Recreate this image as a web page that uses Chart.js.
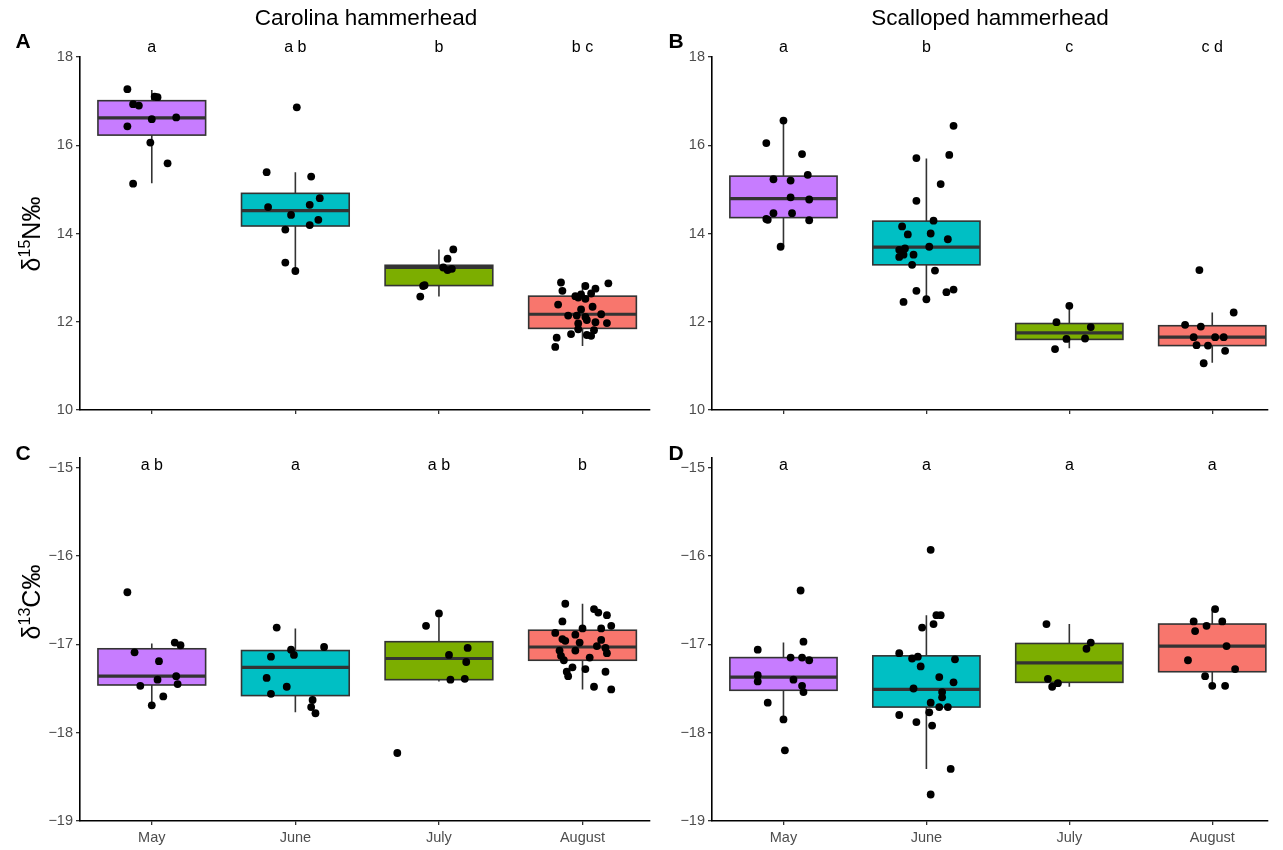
<!DOCTYPE html>
<html lang="en">
  <head>
    <meta charset="UTF-8" />
    <title>Hammerhead isotopes by month</title>
    <script src="https://cdn.jsdelivr.net/npm/chart.js@4.4.0/dist/chart.umd.min.js"></script>
    <style>
      body { margin: 0; background: #fff; font-family: 'Liberation Sans', Arial, sans-serif; }
      #wrap { position: relative; width: 1283px; height: 850px; }
      canvas { position: absolute; left: 0; top: 0; }
      .txt { position: absolute; transform: translate(-50%, -50%); white-space: nowrap; line-height: 1; color: #000; }
      .title { font-size: 22.5px; }
      .tag { font-size: 21px; font-weight: bold; }
      .ytitle { position: absolute; transform: translate(-50%, -50%) rotate(-90deg); white-space: nowrap; font-size: 25px; line-height: 1; }
      .ytitle sup { font-size: 16px; vertical-align: 10px; line-height: 0; }
    </style>
  </head>
  <body>
    <div id="wrap">
      <canvas id="cA" width="1283" height="850"></canvas>
      <canvas id="cB" width="1283" height="850"></canvas>
      <canvas id="cC" width="1283" height="850"></canvas>
      <canvas id="cD" width="1283" height="850"></canvas>

      <div class="txt title" style="left:366px;top:18px">Carolina hammerhead</div>
      <div class="txt title" style="left:990px;top:18px">Scalloped hammerhead</div>
      <div class="txt tag" style="left:23px;top:40px">A</div>
      <div class="txt tag" style="left:676px;top:40px">B</div>
      <div class="txt tag" style="left:23px;top:452px">C</div>
      <div class="txt tag" style="left:676px;top:452px">D</div>
      <div class="ytitle" style="left:31px;top:234px">δ<sup>15</sup>N‰</div>
      <div class="ytitle" style="left:31px;top:602px">δ<sup>13</sup>C‰</div>
    </div>

    <script>
      //data
      const months = ['May', 'June', 'July', 'August'];

      // Carolina hammerhead, d15N
      const carN = [
        [17.27, 17.10, 17.09, 16.93, 16.90, 16.59, 16.63, 16.43, 16.06, 15.59, 15.13],
        [16.86, 15.39, 15.29, 14.80, 14.60, 14.65, 14.42, 14.31, 14.19, 14.09, 13.34, 13.15],
        [13.64, 13.43, 13.23, 13.17, 13.20, 12.83, 12.81, 12.57],
        [12.89, 12.87, 12.81, 12.75, 12.70, 12.64, 12.58, 12.62, 12.52, 12.55, 12.39, 12.34, 12.28, 12.17,
         12.14, 12.14, 12.11, 12.04, 11.96, 11.99, 11.97, 11.83, 11.72, 11.81, 11.68, 11.70, 11.64, 11.43]
      ];
      const carNJit = [
        [-0.17, 0.02, 0.04, -0.13, -0.09, 0.00, 0.17, -0.17, -0.01, 0.11, -0.13],
        [0.01, -0.20, 0.11, 0.17, -0.19, 0.10, -0.03, 0.16, 0.10, -0.07, -0.07, 0.00],
        [0.10, 0.06, 0.03, 0.06, 0.09, -0.10, -0.11, -0.13],
        [-0.15, 0.18, 0.02, 0.09, -0.14, 0.06, -0.05, -0.01, 0.02, -0.03, -0.17, 0.07, -0.01, 0.13,
         -0.10, -0.04, 0.02, 0.03, -0.03, 0.09, 0.17, -0.03, -0.08, 0.08, 0.06, 0.03, -0.18, -0.19]
      ];
      // [lower whisker, q1, median, q3, upper whisker]
      const carNBox = [
        [15.14, 16.23, 16.62, 17.01, 17.25],
        [13.15, 14.17, 14.52, 14.91, 15.39],
        [12.57, 12.82, 13.23, 13.28, 13.64],
        [11.45, 11.85, 12.17, 12.58, 12.87]
      ];
      const carNLetters = ['a', 'a b', 'b', 'b c'];

      // Scalloped hammerhead, d15N
      const scaN = [
        [16.56, 16.05, 15.80, 15.33, 15.23, 15.20, 14.82, 14.77, 14.46, 14.46, 14.33, 14.31, 14.30, 13.70],
        [16.44, 15.78, 15.71, 15.12, 14.74, 14.29, 14.16, 13.98, 14.00, 13.87, 13.70, 13.66, 13.63, 13.52,
         13.52, 13.47, 13.29, 13.16, 12.70, 12.73, 12.67, 12.51, 12.45],
        [12.36, 11.99, 11.88, 11.61, 11.62, 11.38],
        [13.17, 12.21, 11.93, 11.89, 11.65, 11.65, 11.65, 11.47, 11.46, 11.34, 11.06]
      ];
      const scaNJit = [
        [0.00, -0.12, 0.13, 0.17, -0.07, 0.05, 0.05, 0.18, -0.07, 0.06, -0.12, -0.11, 0.18, -0.02],
        [0.19, 0.16, -0.07, 0.10, -0.07, 0.05, -0.17, -0.13, 0.03, 0.15, 0.02, -0.15, -0.19, -0.09,
         -0.16, -0.19, -0.10, 0.06, -0.07, 0.19, 0.14, 0.00, -0.16],
        [0.00, -0.09, 0.15, -0.02, 0.11, -0.10],
        [-0.09, 0.15, -0.19, -0.08, -0.13, 0.02, 0.08, -0.11, -0.03, 0.09, -0.06]
      ];
      const scaNBox = [
        [13.70, 14.36, 14.79, 15.30, 16.56],
        [12.55, 13.29, 13.69, 14.28, 15.70],
        [11.40, 11.60, 11.75, 11.96, 12.36],
        [11.07, 11.46, 11.65, 11.91, 12.21]
      ];
      const scaNLetters = ['a', 'b', 'c', 'c d'];

      // Carolina hammerhead, d13C
      const carC = [
        [-16.41, -16.98, -17.01, -17.09, -17.19, -17.36, -17.40, -17.45, -17.47, -17.59, -17.69],
        [-16.81, -17.03, -17.06, -17.12, -17.14, -17.38, -17.48, -17.56, -17.63, -17.71, -17.78],
        [-16.65, -16.79, -17.04, -17.12, -17.20, -17.40, -17.39, -18.23],
        [-16.54, -16.60, -16.64, -16.67, -16.74, -16.79, -16.82, -16.82, -16.87, -16.89, -16.94, -16.96,
         -16.98, -16.95, -17.02, -17.04, -17.07, -17.07, -17.10, -17.13, -17.15, -17.18, -17.26, -17.28,
         -17.31, -17.31, -17.36, -17.48, -17.51]
      ];
      const carCJit = [
        [-0.17, 0.16, 0.20, -0.12, 0.05, 0.17, 0.04, 0.18, -0.08, 0.08, 0.00],
        [-0.13, 0.20, -0.03, -0.01, -0.17, -0.20, -0.06, -0.17, 0.12, 0.11, 0.14],
        [0.00, -0.09, 0.20, 0.07, 0.19, 0.08, 0.18, -0.29],
        [-0.12, 0.08, 0.11, 0.17, -0.14, 0.20, 0.00, 0.13, -0.19, -0.05, -0.14, -0.12,
         -0.02, 0.13, 0.10, 0.16, -0.05, -0.16, 0.17, -0.15, 0.05, -0.13, -0.07, 0.02,
         -0.11, 0.16, -0.10, 0.08, 0.20]
      ];
      const carCBox = [
        [-17.69, -17.46, -17.36, -17.05, -16.99],
        [-17.77, -17.58, -17.26, -17.07, -16.82],
        [-17.42, -17.40, -17.16, -16.97, -16.65],
        [-17.51, -17.18, -17.03, -16.84, -16.54]
      ];
      const carCLetters = ['a b', 'a', 'a b', 'b'];

      // Scalloped hammerhead, d13C
      const scaC = [
        [-16.39, -16.97, -17.06, -17.15, -17.15, -17.18, -17.35, -17.42, -17.40, -17.47, -17.54, -17.66, -17.85, -18.20],
        [-15.93, -16.67, -16.67, -16.77, -16.81, -17.10, -17.14, -17.16, -17.17, -17.25, -17.37, -17.43,
         -17.50, -17.54, -17.60, -17.66, -17.71, -17.71, -17.77, -17.80, -17.88, -17.92, -18.41, -18.70],
        [-16.77, -16.98, -17.05, -17.39, -17.44, -17.48],
        [-16.60, -16.74, -16.74, -16.79, -16.85, -17.02, -17.18, -17.28, -17.36, -17.47, -17.47]
      ];
      const scaCJit = [
        [0.12, 0.14, -0.18, 0.05, 0.13, 0.18, -0.18, -0.18, 0.07, 0.13, 0.14, -0.11, 0.00, 0.01],
        [0.03, 0.07, 0.10, 0.05, -0.03, -0.19, -0.06, -0.10, 0.20, -0.04, 0.09, 0.19,
         -0.09, 0.11, 0.11, 0.03, 0.09, 0.15, 0.02, -0.19, -0.07, 0.04, 0.17, 0.03],
        [-0.16, 0.15, 0.12, -0.15, -0.08, -0.12],
        [0.02, -0.13, 0.07, -0.04, -0.12, 0.10, -0.17, 0.16, -0.05, 0.00, 0.09]
      ];
      const scaCBox = [
        [-17.85, -17.52, -17.37, -17.15, -16.98],
        [-18.41, -17.71, -17.51, -17.13, -16.67],
        [-17.48, -17.43, -17.21, -16.99, -16.77],
        [-17.48, -17.31, -17.02, -16.77, -16.60]
      ];
      const scaCLetters = ['a', 'a', 'a', 'a'];

      const nTicks = [10, 12, 14, 16, 18];
      const cTicks = [-19, -18, -17, -16, -15];

      //style
      const boxFill = ['#C77CFF', '#00BFC4', '#7CAE00', '#F8766D'];
      const FONT = "'Liberation Sans', Arial, sans-serif";
      Chart.defaults.font.family = FONT;

      const panels = [
        { id: 'cA', pts: carN, jit: carNJit, box: carNBox, letters: carNLetters, ticks: nTicks,
          yMin: 10, yMax: 18, letterY: 18.21, area: { l: 80, r: 650, t: 57, b: 410 }, xMax: 4.47, xLabels: false },
        { id: 'cB', pts: scaN, jit: scaNJit, box: scaNBox, letters: scaNLetters, ticks: nTicks,
          yMin: 10, yMax: 18, letterY: 18.21, area: { l: 712, r: 1268, t: 57, b: 410 }, xMax: 4.39, xLabels: false },
        { id: 'cC', pts: carC, jit: carCJit, box: carCBox, letters: carCLetters, ticks: cTicks,
          yMin: -19, yMax: -14.89, letterY: -14.98, area: { l: 80, r: 650, t: 458, b: 821 }, xMax: 4.47, xLabels: true },
        { id: 'cD', pts: scaC, jit: scaCJit, box: scaCBox, letters: scaCLetters, ticks: cTicks,
          yMin: -19, yMax: -14.89, letterY: -14.98, area: { l: 712, r: 1268, t: 458, b: 821 }, xMax: 4.39, xLabels: true }
      ];

      const Y_AXIS_W = 45;
      const X_AXIS_H = 30;

      function boxPlugin(p) {
        return {
          id: 'boxes_' + p.id,
          beforeDatasetsDraw(chart) {
            const x = chart.scales.x, y = chart.scales.y, ctx = chart.ctx;
            p.box.forEach((b, i) => {
              const cx = x.getPixelForValue(i + 1);
              const x0 = x.getPixelForValue(i + 1 - 0.375);
              const x1 = x.getPixelForValue(i + 1 + 0.375);
              const [lo, q1, md, q3, hi] = b.map((v) => y.getPixelForValue(v));
              ctx.save();
              ctx.strokeStyle = '#333333';
              ctx.lineWidth = 1.6;
              ctx.beginPath();
              ctx.moveTo(cx, hi); ctx.lineTo(cx, q3);
              ctx.moveTo(cx, q1); ctx.lineTo(cx, lo);
              ctx.stroke();
              ctx.fillStyle = boxFill[i];
              ctx.fillRect(x0, q3, x1 - x0, q1 - q3);
              ctx.strokeRect(x0, q3, x1 - x0, q1 - q3);
              ctx.lineWidth = 3.2;
              ctx.beginPath();
              ctx.moveTo(x0, md); ctx.lineTo(x1, md);
              ctx.stroke();
              ctx.restore();
            });
          },
          afterDraw(chart) {
            const x = chart.scales.x, y = chart.scales.y, ctx = chart.ctx;
            ctx.save();
            ctx.fillStyle = '#000';
            ctx.font = '16px ' + FONT;
            ctx.textAlign = 'center';
            ctx.textBaseline = 'middle';
            p.letters.forEach((t, i) => {
              ctx.fillText(t, x.getPixelForValue(i + 1), y.getPixelForValue(p.letterY));
            });
            ctx.restore();
          }
        };
      }

      const minus = (v) => (v < 0 ? '\u2212' + Math.abs(v) : String(v));

      const charts = panels.map((p) => {
        const datasets = p.pts.map((vals, i) => ({
          label: months[i],
          data: vals.map((v, j) => ({ x: i + 1 + p.jit[i][j], y: v })),
          backgroundColor: '#000',
          borderWidth: 0,
          pointRadius: 3.9,
          pointHoverRadius: 3.9
        }));

        const config = {
          type: 'scatter',
          data: { datasets: datasets },
          options: {
            responsive: false,
            animation: false,
            layout: {
              padding: {
                left: p.area.l - Y_AXIS_W,
                right: 1283 - p.area.r,
                top: p.area.t,
                bottom: 850 - p.area.b - X_AXIS_H
              }
            },
            plugins: {
              legend: { display: false },
              tooltip: { enabled: false }
            },
            scales: {
              x: {
                type: 'linear',
                min: 0.5,
                max: p.xMax,
                afterBuildTicks: (axis) => { axis.ticks = [1, 2, 3, 4].map((v) => ({ value: v })); },
                afterFit: (axis) => { axis.height = X_AXIS_H; },
                ticks: {
                  autoSkip: false,
                  maxRotation: 0,
                  padding: 4,
                  color: '#4D4D4D',
                  font: { size: 14.5 },
                  callback: (v) => (p.xLabels ? months[v - 1] : '')
                },
                grid: { drawOnChartArea: false, drawTicks: true, tickLength: 4, color: '#333333', lineWidth: 1.3 },
                border: { display: true, color: '#000', width: 1.6 }
              },
              y: {
                min: p.yMin,
                max: p.yMax,
                afterBuildTicks: (axis) => { axis.ticks = p.ticks.map((v) => ({ value: v })); },
                afterFit: (axis) => { axis.width = Y_AXIS_W; },
                ticks: {
                  padding: 3,
                  color: '#4D4D4D',
                  font: { size: 14.5 },
                  callback: (v) => minus(v)
                },
                grid: { drawOnChartArea: false, drawTicks: true, tickLength: 4, color: '#333333', lineWidth: 1.3 },
                border: { display: true, color: '#000', width: 1.6 }
              }
            }
          },
          plugins: [boxPlugin(p)]
        };

        return new Chart(document.getElementById(p.id), config);
      });
    </script>
  </body>
</html>
